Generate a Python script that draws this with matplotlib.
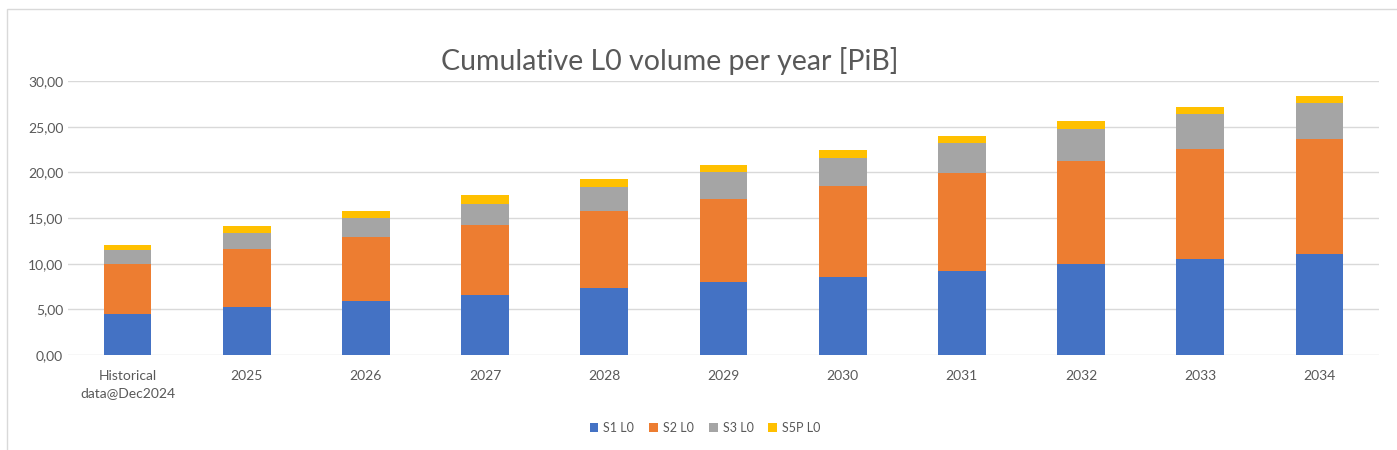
import matplotlib.pyplot as plt
import matplotlib.patches as mpatches
from matplotlib.ticker import FuncFormatter
import numpy as np

plt.rcParams['font.family'] = ['Lato', 'DejaVu Sans']

# values (PiB)
categories = ['Historical\ndata@Dec2024', '2025', '2026', '2027', '2028', '2029',
              '2030', '2031', '2032', '2033', '2034']
s1_l0 = [4.49, 5.29, 5.95, 6.57, 7.30, 7.96, 8.58, 9.23, 9.96, 10.55, 11.06]
s2_l0 = [5.44, 6.32, 6.93, 7.70, 8.47, 9.12, 9.92, 10.66, 11.32, 12.04, 12.55]
s3_l0 = [1.57, 1.78, 2.08, 2.26, 2.59, 2.92, 3.03, 3.36, 3.50, 3.76, 3.94]
s5p_l0 = [0.54, 0.77, 0.81, 0.95, 0.87, 0.84, 0.92, 0.76, 0.84, 0.84, 0.81]

series = [('S1 L0', s1_l0, '#4472C4'),
          ('S2 L0', s2_l0, '#ED7D31'),
          ('S3 L0', s3_l0, '#A5A5A5'),
          ('S5P L0', s5p_l0, '#FFC000')]

fig = plt.figure(figsize=(13.97, 4.5), dpi=100)
ax = fig.add_axes([0.0487, 0.2111, 0.9384, 0.6089])

x = np.arange(len(categories))
bottom = np.zeros(len(categories))
for name, vals, col in series:
    ax.bar(x, vals, 0.40, bottom=bottom, color=col, label=name, zorder=3)
    bottom += np.array(vals)

ax.set_xlim(-0.5, len(categories) - 0.5)
ax.set_ylim(0, 30)
ax.set_yticks(np.arange(0, 31, 5))
ax.yaxis.set_major_formatter(FuncFormatter(lambda v, p: f"{v:.2f}".replace('.', ',')))
ax.set_xticks(x)
ax.set_xticklabels(categories, linespacing=1.5)
ax.tick_params(axis='both', length=0, colors='#595959', labelsize=10)
ax.tick_params(axis='x', pad=11)
ax.grid(axis='y', color='#D9D9D9', linewidth=1, zorder=0)
for s in ax.spines.values():
    s.set_visible(False)

fig.text(670 / 1397, 1 - 61 / 450, 'Cumulative L0 volume per year [PiB]', ha='center', va='center',
         fontsize=20.5, color='#595959')

fig.legend(loc='center', bbox_to_anchor=(705 / 1397, 1 - 428 / 450), ncol=4, frameon=False,
           fontsize=9, handlelength=0.7, handleheight=0.7, handletextpad=0.4,
           columnspacing=1.2, labelcolor='#595959')

# light chart border like the office export
fig.patches.append(mpatches.Rectangle((7 / 1397, -0.02), 1.1, 1 - 9 / 450 + 0.02,
                                      transform=fig.transFigure, fill=False,
                                      edgecolor='#D9D9D9', linewidth=1))

fig.savefig('out.png', dpi=100)
